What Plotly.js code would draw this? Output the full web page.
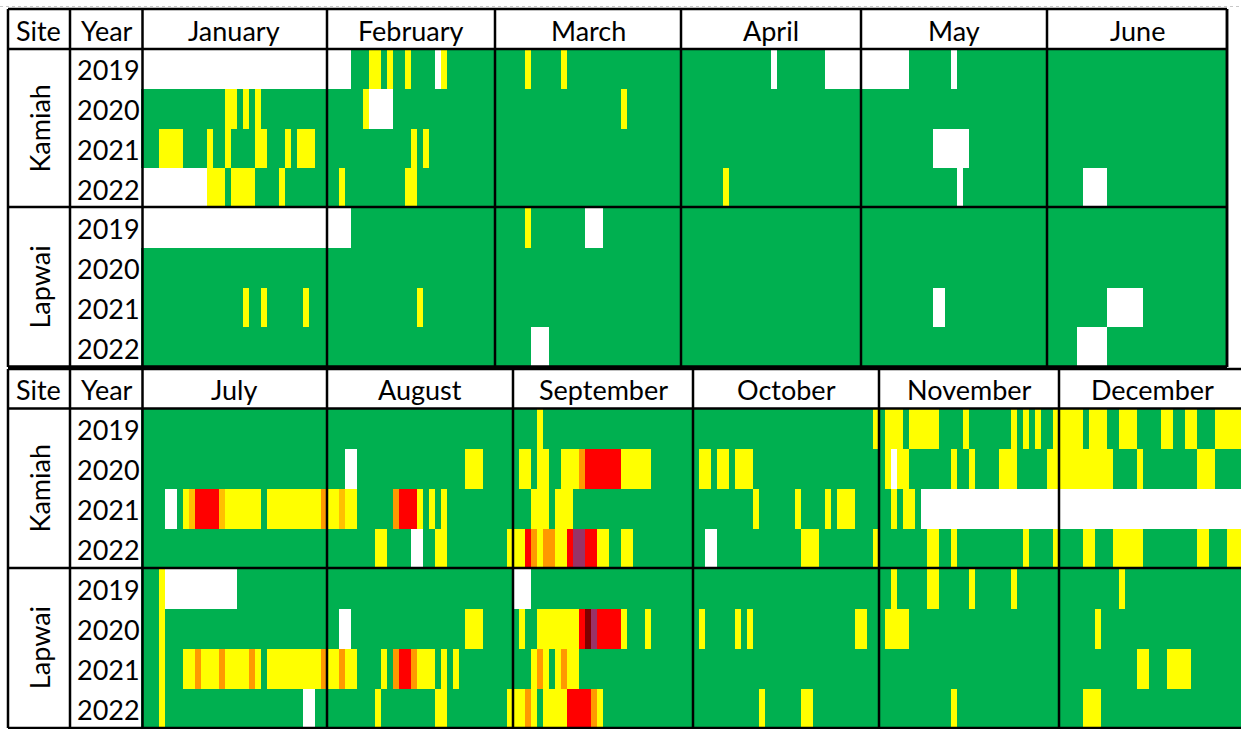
<!DOCTYPE html>
<html>
<head>
<meta charset="utf-8">
<script src="https://cdn.plot.ly/plotly-3.0.1.min.js"></script>
<style>
  html, body { margin: 0; padding: 0; background: #fff; }
  #plot { width: 1241px; height: 729px; }
</style>
</head>
<body>
<div id="plot"></div>
<script>
// categories
const months = ['January', 'February', 'March', 'April', 'May', 'June',
                'July', 'August', 'September', 'October', 'November', 'December'];
const monthDays = [31, 28, 31, 30, 31, 30, 31, 31, 30, 31, 30, 31];
const sites = ['Kamiah', 'Lapwai'];
const years = ['2019', '2020', '2021', '2022'];

// daily codes, one string per month (spaces only for readability)
// w = no data, g = green, y = yellow, a = amber, o = orange, r = red, p = purple, m = maroon
const levelCodes = ['w', 'g', 'y', 'a', 'o', 'r', 'p', 'm'];
const levelColors = ['#FFFFFF', '#00B050', '#FFFF00', '#FFC000', '#FF9900', '#FF0000', '#993366', '#800000'];

const kamiah2019 = [
  'wwwwwwwwww wwwwwwwwww wwwwwwwwww w',
  'wwww ggg yy g y gg y gggg w y gggggggg',
  'ggggg y ggggg y gggggggggg ggggggggg',
  'gggggggggg ggggg w gggggggg wwwwww',
  'wwwwwwww ggggggg w gggggggggg ggggg',
  'gggggggggg gggggggggg gggggggggg',
  'gggggggggg gggggggggg gggggggggg g',
  'gggggggggg gggggggggg gggggggggg g',
  'gggg y gggggggggg gggggggggg ggggg',
  'gggggggggg gggggggggg gggggggggg y',
  'g yyy g yyyyy gggg y ggggggg y g y g y gg y',
  'yyyy g yyy gg yyy gggg yy gg yy ggg yyyyy'
];
const kamiah2020 = [
  'gggggggggg gggg yy g y g y gggggggggg g',
  'gggggg y wwww gggggggggg ggggggg',
  'gggggggggg gggggggggg g y ggggggggg',
  'gggggggggg gggggggggg gggggggggg',
  'gggggggggg gggggggggg gggggggggg g',
  'gggggggggg gggggggggg gggggggggg',
  'gggggggggg gggggggggg gggggggggg g',
  'ggg ww gggggggggg gggggggg yyy ggggg',
  'g yy g yy gg yyy o rrrrrr yyyyy ggggggg',
  'g yy g yy g yyy gggggggggg gggggggggg g',
  'g y w yy ggggggg y gg y gggg yyy ggggg yy',
  'yyyyyyyyy gggg y ggggggggg yyy ggggg'
];
const kamiah2021 = [
  'ggg yyyy gggg y gg y gggg yy ggg y g yyy gg',
  'gggggggggg gggg y g y gggggggggg g',
  'gggggggggg gggggggggg gggggggggg g',
  'gggggggggg gggggggggg gggggggggg',
  'gggggggggg gg wwwwww gggggggggg ggg',
  'gggggggggg gggggggggg gggggggggg',
  'gggg ww g y a rrrr a yyyyyy g yyyyyyyyy o',
  'yy a yy gggggg o rrr y g y g y gggggggggg g',
  'ggg yyy g yyy gggggggggg gggggggggg',
  'gggggggggg y gggggg y gggg y g yyy gggg',
  'gg y g yy g wwwwwwwwww wwwwwwwwww www',
  'wwwwwwwwww wwwwwwwwww wwwwwwwwww w'
];
const kamiah2022 = [
  'wwwwwwwwww w yyy g yyyy gggg y ggggggg',
  'gg y gggggggggg yy gggggggggg ggg',
  'gggggggggg gggggggggg gggggggggg g',
  'ggggggg y gggggggggg gggggggggg gg',
  'gggggggggg gggggg w gggggggggg gggg',
  'gggggg wwww gggggggggg gggggggggg',
  'gggggggggg gggggggggg gggggggggg g',
  'gggggggg yy gggg ww gg yy gggggggggg y',
  'yy r o y oo yy r pp rr yy gg yy gggggggggg',
  'gg ww gggggggggg gggg yyy ggggggggg y',
  'gggggggg yy gg y gggggggggg g y gggg y',
  'gggg yy ggg yyyyy ggggggggg yy ggg yyy'
];
const lapwai2019 = [
  'wwwwwwwwww wwwwwwwwww wwwwwwwwww w',
  'wwww gggggggggg gggggggggg gggg',
  'ggggg y ggggggggg www gggggggggg ggg',
  'gggggggggg gggggggggg gggggggggg',
  'gggggggggg gggggggggg gggggggggg g',
  'gggggggggg gggggggggg gggggggggg',
  'ggg y wwwwwwwwww ww gggggggggg ggggg',
  'gggggggggg gggggggggg gggggggggg g',
  'www gggggggggg gggggggggg ggggggg',
  'gggggggggg gggggggggg gggggggggg g',
  'gg y ggggg yy ggggg y gggggg y ggggggg',
  'gggggggggg y gggggggggg gggggggggg'
];
const lapwai2020 = [
  'gggggggggg gggggggggg gggggggggg g',
  'gggggggggg gggggggggg gggggggg',
  'gggggggggg gggggggggg gggggggggg g',
  'gggggggggg gggggggggg gggggggggg',
  'gggggggggg gggggggggg gggggggggg g',
  'gggggggggg gggggggggg gggggggggg',
  'ggg y gggggggggg gggggggggg ggggggg',
  'gg ww gggggggggg ggggggggg yyy ggggg',
  'g y gg yyyyyyy r m p rrrr y ggg y ggggggg',
  'g y ggggg y g y gggggggggg ggggggg yy gg',
  'g yyyy gggggggggg gggggggggg ggggg',
  'gggggg y gggggggggg gggggggggg gggg'
];
const lapwai2021 = [
  'gggggggggg ggggggg y gg y gggggg y ggg',
  'gggggggggg ggggg y gggggggggg gg',
  'gggggggggg gggggggggg gggggggggg g',
  'gggggggggg gggggggggg gggggggggg',
  'gggggggggg gg ww gggggggggg ggggggg',
  'gggggggggg wwwwww gggggggggg gggg',
  'ggg y ggg yy o yyy o yyyy o y g yyyyyyyyy o',
  'yy o yy gggg y g o rr o yyy g y g y ggggggggg',
  'ggg y o y g y o yy gggggggggg ggggggggg',
  'gggggggggg gggggggggg gggggggggg g',
  'gggggggggg gggggggggg gggggggggg',
  'gggggggggg ggg yy ggg yyyy ggggggggg'
];
const lapwai2022 = [
  'gggggggggg gggggggggg gggggggggg g',
  'gggggggggg gggggggggg gggggggg',
  'gggggg www gggggggggg gggggggggg gg',
  'gggggggggg gggggggggg gggggggggg',
  'gggggggggg gggggggggg gggggggggg g',
  'ggggg wwwww gggggggggg gggggggggg',
  'ggg y gggggggggg gggggggggg ggg ww gg',
  'gggggggg y ggggggggg yy gggggggggg y',
  'yy o y g yyyy rrrr o y gggggggggg ggggg',
  'gggggggggg g y gggggg yy gggggggggg g',
  'gggggggggg gg y gggggggggg ggggggg',
  'gggg yyy gggggggggg gggggggggg gggg'
];

const rows = [kamiah2019, kamiah2020, kamiah2021, kamiah2022,
              lapwai2019, lapwai2020, lapwai2021, lapwai2022];

function monthValues(str, n) {
  let s = str.replace(/\s+/g, '');
  if (s.length !== n) console.warn('length', s.length, 'expected', n, str);
  while (s.length < n) s += s[s.length - 1];
  return s.slice(0, n).split('').map(c => levelCodes.indexOf(c));
}

function panelZ(first) {
  return rows.map(r => {
    let out = [];
    for (let m = first; m < first + 6; m++) out = out.concat(monthValues(r[m], monthDays[m]));
    return out;
  });
}

const W = 1241, H = 729;
const px = v => v / W;
const py = v => 1 - v / H;
const dayPx = 6, dataLeft = 141;
const xRange = [-0.5, (W - dataLeft) / dayPx - 0.5];

const colorscale = [];
levelColors.forEach((c, i) => {
  colorscale.push([i / levelColors.length, c]);
  colorscale.push([(i + 1) / levelColors.length, c]);
});

function heat(first, xa, ya) {
  const z = panelZ(first);
  return {
    type: 'heatmap',
    z: z,
    x: z[0].map((_, i) => i),
    y: rows.map((_, i) => i),
    xaxis: xa, yaxis: ya,
    colorscale: colorscale,
    zmin: -0.5, zmax: levelColors.length - 0.5,
    showscale: false,
    hoverinfo: 'skip'
  };
}

const data = [heat(0, 'x', 'y'), heat(6, 'x2', 'y2')];

// panel geometry in pixels
const panels = [
  { first: 0, xref: 'x', top: 9, head: 49, mid: 207, bottom: 367, right: 1227 },
  { first: 6, xref: 'x2', top: 369, head: 408.5, mid: 568, bottom: 728, right: W }
];

const lw = 2.5;
const shapes = [];
const annotations = [];
const font = { family: 'Lato, "Open Sans", sans-serif', size: 27, color: '#000' };

function hline(y, x0, x1, w) {
  shapes.push({ type: 'line', xref: 'paper', yref: 'paper', x0: px(x0), x1: px(x1), y0: py(y), y1: py(y),
                line: { color: '#000', width: w || lw } });
}
function vline(x, y0, y1, w) {
  shapes.push({ type: 'line', xref: 'paper', yref: 'paper', x0: px(x), x1: px(x), y0: py(y0), y1: py(y1),
                line: { color: '#000', width: w || lw } });
}
function label(text, xref, x, y, extra) {
  annotations.push(Object.assign({ text: text, xref: xref, yref: 'paper', x: x, y: py(y),
    xanchor: 'center', yanchor: 'middle', showarrow: false, font: font }, extra || {}));
}

// faint sheet gridline above the table
shapes.push({ type: 'line', xref: 'paper', yref: 'paper', x0: 0, x1: 1, y0: py(6.5), y1: py(6.5),
              line: { color: '#c8c8c8', width: 1, dash: 'dot' } });

panels.forEach(p => {
  hline(p.top, 8, p.right);
  hline(p.head, 8, p.right);
  hline(p.mid, 8, p.right);
  hline(p.bottom, 8, p.right, p.first === 0 ? 3.5 : lw);
  vline(8, p.top, p.bottom);
  vline(70, p.top, p.bottom);
  vline(142.5, p.top, p.bottom);
  if (p.right < W) vline(p.right, p.top, p.bottom);

  const headY = (p.top + p.head) / 2 + 1;
  label('Site', 'paper', px(38), headY);
  label('Year', 'paper', px(107), headY);

  let start = 0;
  for (let m = p.first; m < p.first + 6; m++) {
    const end = start + monthDays[m];
    label(months[m], p.xref, (start + end) / 2 - 0.5, headY);
    if (m < p.first + 5 || p.right < W) {
      shapes.push({ type: 'line', xref: p.xref, yref: 'paper', x0: end - 0.5, x1: end - 0.5,
                    y0: py(p.top), y1: py(p.bottom), line: { color: '#000', width: lw } });
    }
    start = end;
  }

  const rowH = (p.bottom - p.head) / rows.length;
  sites.forEach((s, si) => {
    const gTop = p.head + si * years.length * rowH;
    label(s, 'paper', px(39), gTop + years.length * rowH / 2, { textangle: -90 });
    years.forEach((yr, yi) => {
      label(yr, 'paper', px(108), gTop + (yi + 0.5) * rowH + 1);
    });
  });
});

const axisBase = { showgrid: false, zeroline: false, showticklabels: false, ticks: '', fixedrange: true };

const layout = {
  width: W, height: H,
  margin: { l: 0, r: 0, t: 0, b: 0 },
  paper_bgcolor: '#fff', plot_bgcolor: '#fff',
  showlegend: false,
  xaxis: Object.assign({}, axisBase, { domain: [px(dataLeft), 1], range: xRange, anchor: 'y' }),
  yaxis: Object.assign({}, axisBase, { domain: [py(panels[0].bottom), py(panels[0].head)], range: [rows.length - 0.5, -0.5], anchor: 'x' }),
  xaxis2: Object.assign({}, axisBase, { domain: [px(dataLeft), 1], range: xRange, anchor: 'y2' }),
  yaxis2: Object.assign({}, axisBase, { domain: [py(panels[1].bottom), py(panels[1].head)], range: [rows.length - 0.5, -0.5], anchor: 'x2' }),
  shapes: shapes,
  annotations: annotations
};

Plotly.newPlot('plot', data, layout, { displayModeBar: false, staticPlot: true });
</script>
</body>
</html>
